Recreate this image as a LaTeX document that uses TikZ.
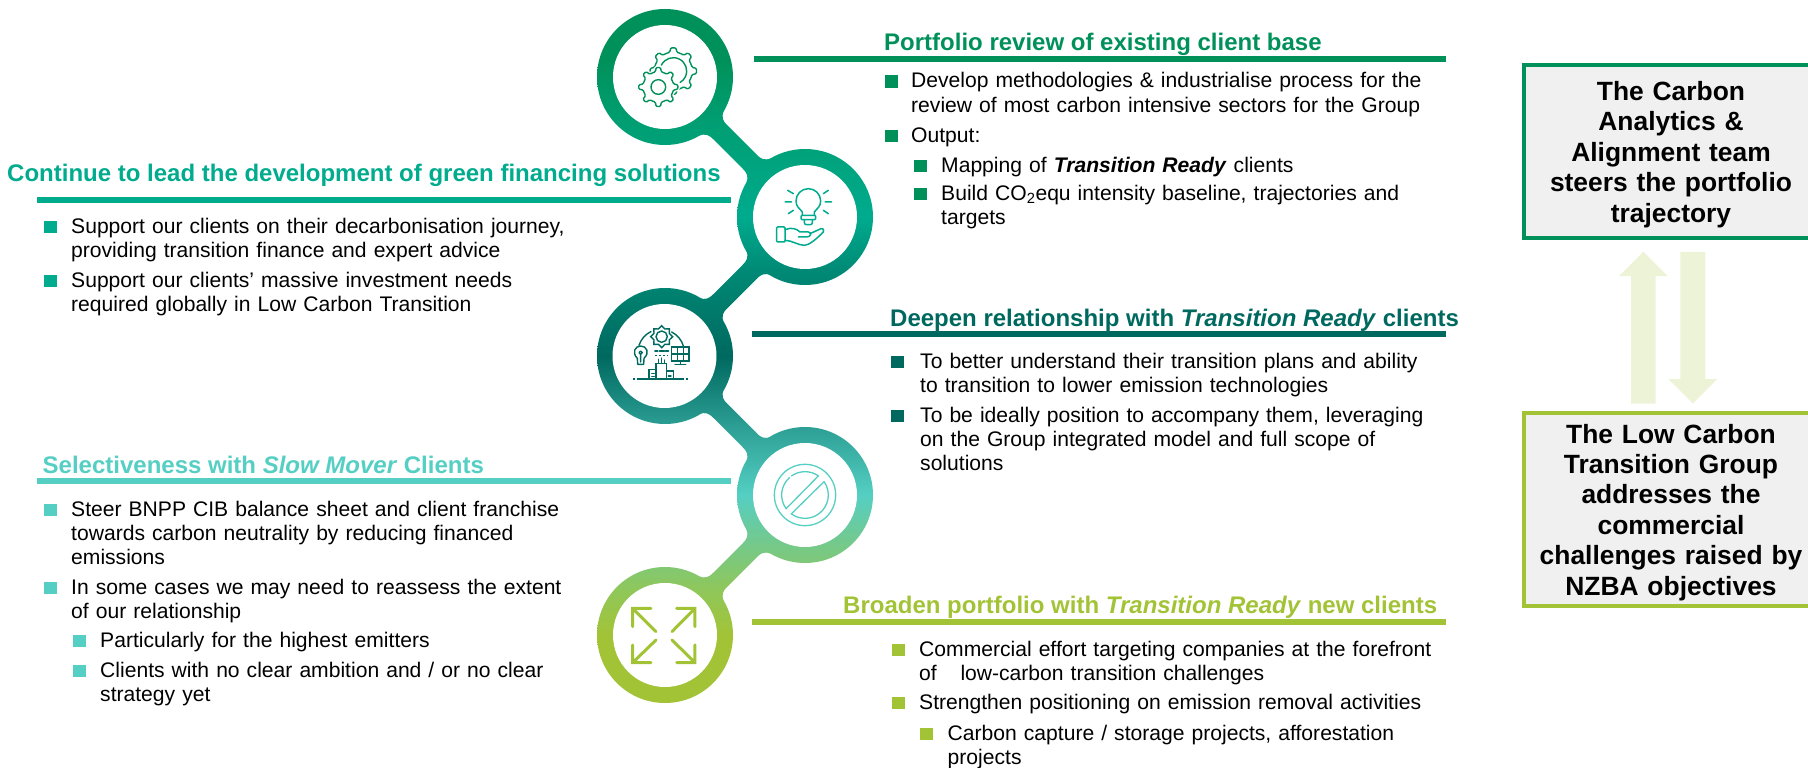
\documentclass[tikz,border=0pt]{standalone}
\usepackage{fontspec}
\setmainfont{Liberation Sans}
\definecolor{cOne}{HTML}{00915A}
\definecolor{cTwo}{HTML}{00AB8E}
\definecolor{cThree}{HTML}{00695F}
\definecolor{cFour}{HTML}{55CFC3}
\definecolor{cFive}{HTML}{A3C337}
\definecolor{cArrow}{HTML}{EDF3D7}
\definecolor{cBox}{HTML}{F0F0F0}
\definecolor{cMidA}{HTML}{8FC75A}
\definecolor{cMidB}{HTML}{72C98F}
\definecolor{cMidC}{HTML}{2C9E94}
\definecolor{cMidD}{HTML}{008A76}
\definecolor{cMidE}{HTML}{009C6E}
\pgfdeclareverticalshading{chainshade}{100bp}{
 color(0bp)=(cFive); color(29.95bp)=(cFive); color(33.2bp)=(cMidA);
 color(36.8bp)=(cMidB); color(40bp)=(cFour); color(45bp)=(cMidC);
 color(50bp)=(cThree); color(56.2bp)=(cMidD); color(60bp)=(cTwo); color(67.65bp)=(cMidE); color(71.25bp)=(cOne); color(100bp)=(cOne)}
\newcount\txtn
\newcommand{\ringpiece}[1]{\begin{scope}#1\shade[shading=chainshade] (590,8) rectangle (880,704);\end{scope}}
\newcommand{\linkpiece}[2]{\ringpiece{\clip[shift={(#1)},xscale=#2] (-70,-70) -- (-11,-37) .. controls (-14,-29) and (-12,-26) .. (-7.7,-21.7) -- (21.7,7.7) .. controls (26,12) and (29,14) .. (37,11) -- (70,70) -- (11,37) .. controls (14,29) and (12,26) .. (7.7,21.7) -- (-21.7,-7.7) .. controls (-26,-12) and (-29,-14) .. (-37,-11) -- cycle;}}
\newcommand{\bitem}[5]{\fill[#1] (#2,#4-12.5) rectangle (#2+12.6,#4-0.3);\global\advance\txtn by 1
 \node[bodytext] (txt\the\txtn) at (#3,#4) {#5};}
% radius of tips, radius of roots, style; eight teeth
\newcommand{\gearicon}[3]{\draw[rounded corners=1.2pt,#3] (-11:#2) \foreach \k in {0,...,7}{ -- ({\k*45-11}:#2) -- ({\k*45-6.5}:#1) -- ({\k*45+6.5}:#1) -- ({\k*45+11}:#2) -- ({\k*45+22.5}:#2)} -- cycle;}
\tikzset{
 bodytext/.style={anchor=base west,inner sep=0pt,text width=620pt,align=left,font=\fontsize{21.1}{24.4}\selectfont,text=black},
 titletext/.style={anchor=base west,inner sep=0pt,font=\fontsize{24}{28}\selectfont\bfseries},
 boxtext/.style={anchor=base,inner sep=0pt,text width=285pt,align=center,font=\fontsize{26.4}{30.4}\selectfont\bfseries,text=black},
 ruleline/.style={line width=6pt},
 holenode/.style={circle,fill=white,inner sep=0pt,minimum size=104pt},
 iconline/.style={line width=#1,line cap=round,line join=round},
}
\begin{document}
\begin{tikzpicture}[x=1pt,y=-1pt]
\useasboundingbox (0,0) rectangle (1808,768);
\clip (0,0) rectangle (1808,768);
% chain
\ringpiece{\clip (665,77) circle (68);}
\ringpiece{\clip (805,217) circle (68);}
\ringpiece{\clip (665,356) circle (68);}
\ringpiece{\clip (805,495) circle (68);}
\ringpiece{\clip (665,635) circle (68);}
\linkpiece{735,147}{1}
\linkpiece{735,286.5}{-1}
\linkpiece{735,425.5}{1}
\linkpiece{735,565}{-1}
\node[holenode] (hole1) at (665,77) {};
\node[holenode] (hole2) at (805,217) {};
\node[holenode] (hole3) at (664.5,356) {};
\node[holenode] (hole4) at (805,495) {};
\node[holenode] (hole5) at (665,635) {};
% gears icon
\begin{scope}[shift={(625,37)},scale=0.3333]
 \begin{scope}[shift={(145,102)}]
  \gearicon{70}{57}{cOne,iconline=1.4pt}
  \draw[cOne,iconline=1.4pt] (-154:40) arc[start angle=-154,end angle=59,radius=40];
 \end{scope}
 \begin{scope}[shift={(100,150)}]
  \gearicon{59}{46}{white,fill=white,iconline=4pt}
  \gearicon{59}{46}{cOne,iconline=1.4pt}
  \draw[cOne,iconline=1.4pt] (0,0) circle (22);
 \end{scope}
\end{scope}
% bulb icon
\begin{scope}[shift={(765,177)},scale=0.3333,cTwo,iconline=1.5pt]
 \draw (112,115) -- (112,105) .. controls (105,95) and (93,90) .. (93,72) arc[start angle=180,end angle=360,radius=37] .. controls (167,90) and (155,95) .. (148,105) -- (148,115);
 \draw[rounded corners=1pt] (108,115) rectangle (152,128);
 \draw[rounded corners=2pt] (118,128) -- (118,143) -- (142,143) -- (142,128);
 \draw (68,40) -- (85,50) (60,75) -- (80,75) (70,110) -- (85,100) (175,50) -- (190,40) (180,75) -- (200,75) (175,100) -- (190,110);
 \draw[rounded corners=1pt] (35,150) rectangle (60,195);
 \draw (60,158) .. controls (80,150) and (95,155) .. (105,165) -- (130,165) .. controls (140,165) and (140,180) .. (125,180) -- (100,180);
 \draw (135,170) -- (168,155) .. controls (178,153) and (178,165) .. (170,170) .. controls (150,190) and (130,205) .. (118,205) .. controls (100,205) and (80,190) .. (60,190);
\end{scope}
% city icon
\begin{scope}[shift={(625,316)},scale=0.3333,cThree,iconline=1.4pt]
 \draw (110,62) circle (17);
 \begin{scope}[shift={(110,62)}]
  \draw[line join=miter] (0:33) \foreach \a in {0,45,...,315}{ -- (\a:33) -- ({\a+22.5}:25)} -- cycle;
 \end{scope}
 \draw (42,88) arc[start angle=198,end angle=244,radius=70];
 \draw (140,48) arc[start angle=297,end angle=344,radius=70];
 \draw (37,127) .. controls (20,110) and (30,90) .. (47,90) .. controls (65,90) and (75,110) .. (57,127) -- (56,145) -- (38,145) -- cycle;
 \draw (47,110) circle (5) (47,115) -- (47,138);
 \draw[line width=2pt] (90,105) -- (98,105) (104,105) -- (118,105) (122,105) -- (130,105);
 \draw[line width=1.6pt,line cap=butt,dash pattern=on 2pt off 2pt] (90,119) -- (130,119);
 \draw[line width=1.5pt,line cap=butt,line join=miter] (140,93) rectangle (192,135) (157,93) -- (157,135) (175,93) -- (175,135) (140,114) -- (192,114);
 \draw (166,135) -- (166,145) (150,146) -- (182,146);
 \draw[line width=1.5pt,line cap=butt,line join=miter] (72,190) -- (72,160) -- (93,160) -- (93,190) (93,190) -- (93,142) -- (125,142) -- (125,190) (125,165) -- (145,165) -- (145,190);
 \draw (80,172) -- (88,172) (80,181) -- (88,181) (130,180) -- (138,180) (100,142) -- (100,130) (110,142) -- (110,126) (118,142) -- (118,132);
 \draw[line width=1.8pt,line cap=butt] (36,190) -- (178,190) (24,190) -- (30,190) (184,190) -- (190,190);
\end{scope}
% no-entry icon
\begin{scope}[shift={(760,450)},scale=0.3333,cFour,iconline=1.3pt]
 \draw (135,135) circle (92);
 \begin{scope}[shift={(135,135)}]
  \draw (-55:70) arc[start angle=-55,end angle=-125,radius=70];
  \draw (-132:70) arc[start angle=-132,end angle=-216,radius=70];
  \draw (-35:70) arc[start angle=-35,end angle=126,radius=70] -- cycle;
  \draw (-55:70) -- (-216:70);
 \end{scope}
\end{scope}
% arrows icon
\begin{scope}[shift={(580,510)},scale=0.3333,cFive,iconline=3pt]
 \draw[line join=miter] (213,295) -- (158,295) -- (158,350) (158,295) -- (228,365);
 \draw[line join=miter] (290,295) -- (345,295) -- (345,350) (345,295) -- (276,365);
 \draw[line join=miter] (213,458) -- (158,458) -- (158,405) (158,458) -- (228,390);
 \draw[line join=miter] (290,458) -- (345,458) -- (345,405) (345,458) -- (276,390);
\end{scope}
% rules
\coordinate (r1a) at (754,59); \coordinate (r1b) at (1446,59);
\coordinate (r2a) at (37,200); \coordinate (r2b) at (731,200);
\coordinate (r3a) at (752,333.5); \coordinate (r3b) at (1446,333.5);
\coordinate (r4a) at (37,481); \coordinate (r4b) at (731,481);
\coordinate (r5a) at (752,622); \coordinate (r5b) at (1446,622);
\draw[ruleline,cOne] (r1a) -- (r1b);
\draw[ruleline,cTwo] (r2a) -- (r2b);
\draw[ruleline,cThree] (r3a) -- (r3b);
\draw[ruleline,cFour] (r4a) -- (r4b);
\draw[ruleline,cFive] (r5a) -- (r5b);
% titles
\node[titletext,text=cOne] (title1) at (884,51) {Portfolio review of existing client base};
\node[titletext,text=cTwo] (title2) at (7,181) {Continue to lead the development of green financing solutions};
\node[titletext,text=cThree] (title3) at (890,326) {Deepen relationship with \textit{Transition Ready} clients};
\node[titletext,text=cFour] (title4) at (42.5,473) {Selectiveness with \textit{Slow Mover} Clients};
\node[titletext,text=cFive] (title5) at (843,613) {Broaden portfolio with \textit{Transition Ready} new clients};
% section 1
\bitem{cOne}{885}{911}{88}{Develop methodologies \& industrialise process for the\\review of most carbon intensive sectors for the Group}
\bitem{cOne}{885}{911}{142}{Output:}
\bitem{cOne}{914}{941}{172}{Mapping of \textbf{\textit{Transition Ready}} clients}
\bitem{cOne}{914}{941}{200}{Build CO\textsubscript{2}equ intensity baseline, trajectories and\\targets}
% section 2
\bitem{cTwo}{44}{71}{233}{Support our clients on their decarbonisation journey,\\providing transition finance and expert advice}
\bitem{cTwo}{44}{71}{287}{Support our clients’ massive investment needs\\required globally in Low Carbon Transition}
% section 3
\bitem{cThree}{891}{920}{368}{To better understand their transition plans and ability\\to transition to lower emission technologies}
\bitem{cThree}{891}{920}{422}{To be ideally position to accompany them, leveraging\\on the Group integrated model and full scope of\\solutions}
% section 4
\bitem{cFour}{44}{71}{516}{Steer BNPP CIB balance sheet and client franchise\\towards carbon neutrality by reducing financed\\emissions}
\bitem{cFour}{44}{71}{594}{In some cases we may need to reassess the extent\\of our relationship}
\bitem{cFour}{73}{100}{647}{Particularly for the highest emitters}
\bitem{cFour}{73}{100}{677}{Clients with no clear ambition and / or no clear\\strategy yet}
% section 5
\bitem{cFive}{892}{919}{656}{Commercial effort targeting companies at the forefront\\of\hspace{23.7pt}low-carbon transition challenges}
\bitem{cFive}{892}{919}{709}{Strengthen positioning on emission removal activities}
\bitem{cFive}{920}{947.5}{740}{Carbon capture / storage projects, afforestation\\projects}
% right boxes
\draw[line width=4pt,cOne,fill=cBox] (1523.7,65) rectangle (1820,238);
\draw[line width=4pt,cFive,fill=cBox] (1523.7,413) rectangle (1820,605.5);
\node[boxtext] (box1) at (1671,100.5) {The Carbon\\Analytics \&\\Alignment team\\steers the portfolio\\trajectory};
\node[boxtext] (box2) at (1671,443) {The Low Carbon\\Transition Group\\addresses the\\commercial\\challenges raised by\\NZBA objectives};
\fill[cArrow] (1631,403.5) -- (1631,276) -- (1619,276) -- (1643.3,251.8) -- (1667.7,276) -- (1655.7,276) -- (1655.7,403.5) -- cycle;
\fill[cArrow] (1680.3,251.8) -- (1680.3,379) -- (1668.3,379) -- (1692.8,403.5) -- (1717.3,379) -- (1705.3,379) -- (1705.3,251.8) -- cycle;
\end{tikzpicture}
\end{document}
